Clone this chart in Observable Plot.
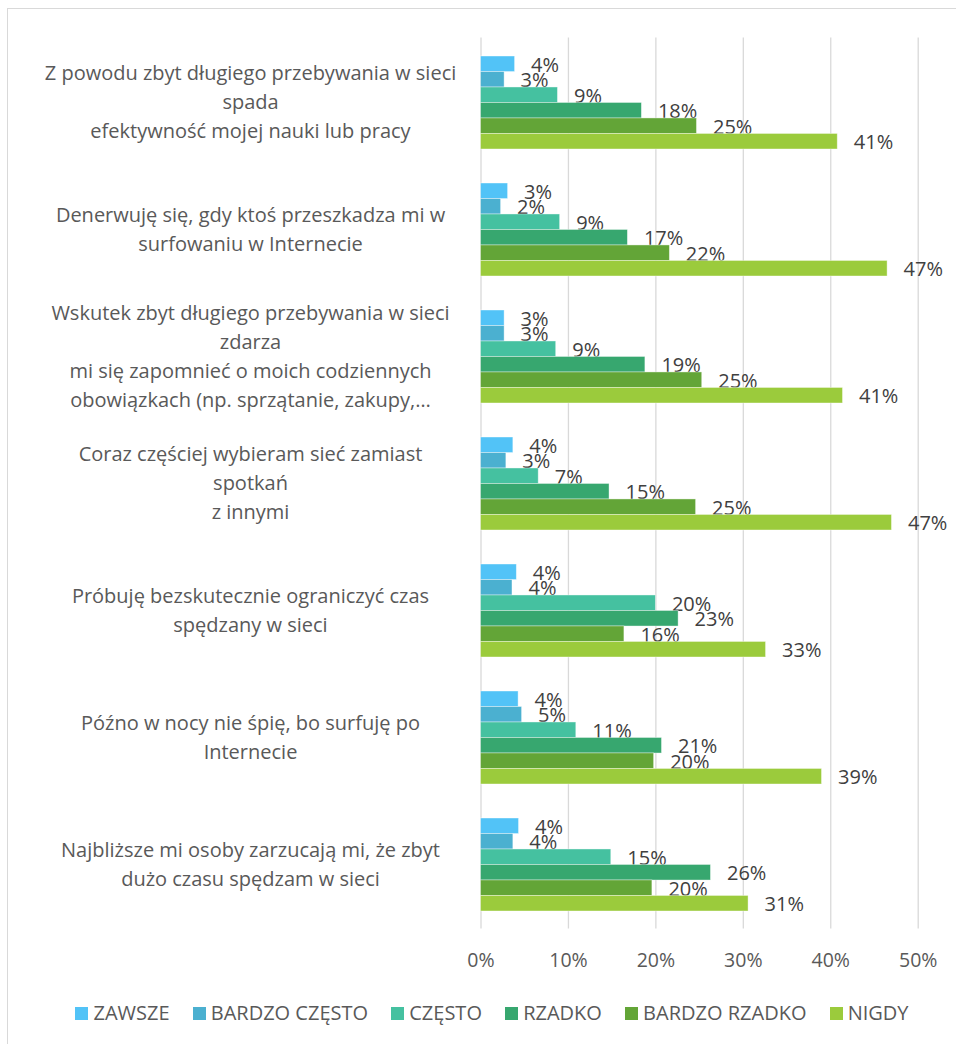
<!DOCTYPE html>
<html>
<head>
<meta charset="utf-8">
<script src="https://cdn.jsdelivr.net/npm/d3@7"></script>
<script src="https://cdn.jsdelivr.net/npm/@observablehq/plot@0.6"></script>
<style>
  html, body { margin: 0; padding: 0; background: #ffffff; overflow: hidden; width: 956px; height: 1044px; }
  #frame { position: absolute; left: 7px; top: 8px; width: 1000px; height: 1100px; border: 1.5px solid #d9d9d9; box-sizing: border-box; }
  #chart { position: absolute; left: 0; top: 0; }
  #legend { position: absolute; left: 0; top: 1001px; width: 956px; display: flex; justify-content: center; padding-left: 28px; box-sizing: border-box;
            font-family: "Open Sans", sans-serif; font-size: 20px; color: #595959; line-height: 24px; }
  .item { display: flex; align-items: center; margin: 0 11.6px; white-space: nowrap; }
  .sw { width: 13px; height: 13px; margin-right: 5px; display: inline-block; }
</style>
</head>
<body>
<div id="frame"></div>
<div id="chart"></div>
<div id="legend"></div>
<script>
// ---- data ----
const categories = [
  "Z powodu zbyt długiego przebywania w sieci\nspada\nefektywność mojej nauki lub pracy",
  "Denerwuję się, gdy ktoś przeszkadza mi w\nsurfowaniu w Internecie",
  "Wskutek zbyt długiego przebywania w sieci\nzdarza\nmi się zapomnieć o moich codziennych\nobowiązkach (np. sprzątanie, zakupy,…",
  "Coraz częściej wybieram sieć zamiast\nspotkań\nz innymi",
  "Próbuję bezskutecznie ograniczyć czas\nspędzany w sieci",
  "Późno w nocy nie śpię, bo surfuję po\nInternecie",
  "Najbliższe mi osoby zarzucają mi, że zbyt\ndużo czasu spędzam w sieci"
];
const seriesNames = ["ZAWSZE", "BARDZO CZĘSTO", "CZĘSTO", "RZADKO", "BARDZO RZADKO", "NIGDY"];
const zawsze       = [3.9, 3.1, 2.7, 3.7, 4.1, 4.3, 4.35];
const bardzoCzesto = [2.7, 2.3, 2.7, 2.9, 3.6, 4.7, 3.7];
const czesto       = [8.8, 9.05, 8.6, 6.6, 20.0, 10.9, 14.9];
const rzadko       = [18.4, 16.8, 18.8, 14.7, 22.6, 20.7, 26.3];
const bardzoRzadko = [24.7, 21.6, 25.3, 24.6, 16.4, 19.8, 19.6];
const nigdy        = [40.8, 46.5, 41.4, 47.0, 32.6, 39.0, 30.6];
const seriesValues = [zawsze, bardzoCzesto, czesto, rzadko, bardzoRzadko, nigdy];
const colors = ["#52C3F7", "#4BB0D0", "#45C1A0", "#37A76F", "#63A537", "#9BCB3C"];
const xTicks = [0, 10, 20, 30, 40, 50];

// ---- layout ----
const W = 956, H = 985;
const mTop = 37.5, mBottom = 56.5, mLeft = 480.5, mRight = 38.3;
const padInner = 0.27, padOuter = 0.135;
const step = (H - mTop - mBottom) / (categories.length - padInner + 2 * padOuter);
const bw = step * (1 - padInner);
const barH = bw / seriesNames.length;

const rows = [];
categories.forEach((c, i) => seriesNames.forEach((s, j) => rows.push({category: c, series: s, si: j, value: seriesValues[j][i]})));

const marks = [
  Plot.gridX(xTicks, {stroke: "#d9d9d9", strokeOpacity: 1, strokeWidth: 1.3})
];
seriesNames.forEach((s, j) => {
  const d = rows.filter(r => r.si === j);
  marks.push(Plot.barX(d, {x: "value", y: "category", fill: colors[j],
    insetTop: j * barH, insetBottom: (seriesNames.length - 1 - j) * barH,
    stroke: "#ffffff", strokeOpacity: 0.5, strokeWidth: 0.8}));
  marks.push(Plot.text(d, {x: "value", y: "category", text: r => Math.round(r.value) + "%",
    textAnchor: "start", dx: 16, dy: (j - (seriesNames.length - 1) / 2) * barH + 1,
    fill: "#404040", fontSize: 20}));
});
marks.push(Plot.text(categories, {y: c => c, frameAnchor: "left", textAnchor: "middle", dx: -230.5, dy: -3,
  lineHeight: 1.45, fontSize: 20, fill: "#595959"}));
marks.push(Plot.axisX(xTicks, {tickSize: 0, tickPadding: 24, tickFormat: d => d + "%", fontSize: 19.5, color: "#595959", label: null}));

const chart = Plot.plot({
  width: W, height: H,
  marginTop: mTop, marginBottom: mBottom, marginLeft: mLeft, marginRight: mRight,
  style: {fontFamily: "'Open Sans', sans-serif", background: "transparent"},
  x: {domain: [0, 50], axis: null},
  y: {domain: categories, paddingInner: padInner, paddingOuter: padOuter, axis: null},
  marks
});
document.getElementById("chart").append(chart);

const legend = document.getElementById("legend");
seriesNames.forEach((s, j) => {
  const it = document.createElement("div");
  it.className = "item";
  const sw = document.createElement("span");
  sw.className = "sw";
  sw.style.background = colors[j];
  it.append(sw, document.createTextNode(s));
  legend.append(it);
});
</script>
</body>
</html>
